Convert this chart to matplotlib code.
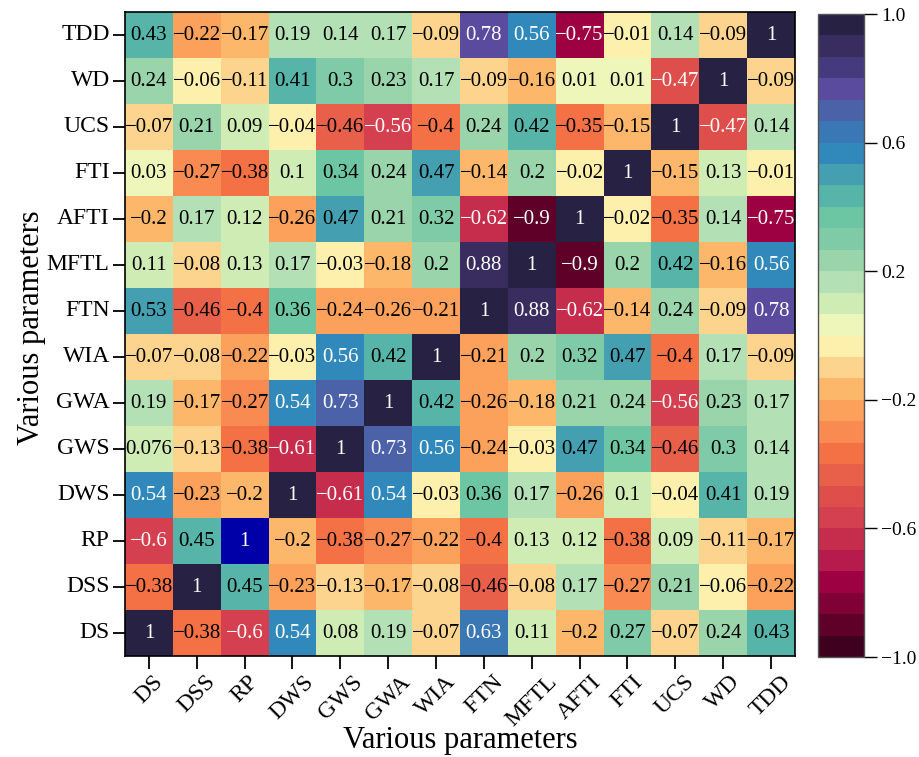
import numpy as np
import matplotlib
matplotlib.use('Agg')
import matplotlib.pyplot as plt
import seaborn as sns
from matplotlib.colors import ListedColormap, Normalize

plt.rcParams['font.family'] = ['Liberation Serif', 'DejaVu Serif']

## parameter names (columns left to right, rows bottom to top)
params = ['DS', 'DSS', 'RP', 'DWS', 'GWS', 'GWA', 'WIA',
          'FTN', 'MFTL', 'AFTI', 'FTI', 'UCS', 'WD', 'TDD']

## correlation values, one list per row as shown from top (TDD) to bottom (DS)
r_TDD  = [0.43, -0.22, -0.17, 0.19, 0.14, 0.17, -0.09, 0.78, 0.56, -0.75, -0.01, 0.14, -0.09, 1]
r_WD   = [0.24, -0.06, -0.11, 0.41, 0.3, 0.23, 0.17, -0.09, -0.16, 0.01, 0.01, -0.47, 1, -0.09]
r_UCS  = [-0.07, 0.21, 0.09, -0.04, -0.46, -0.56, -0.4, 0.24, 0.42, -0.35, -0.15, 1, -0.47, 0.14]
r_FTI  = [0.03, -0.27, -0.38, 0.1, 0.34, 0.24, 0.47, -0.14, 0.2, -0.02, 1, -0.15, 0.13, -0.01]
r_AFTI = [-0.2, 0.17, 0.12, -0.26, 0.47, 0.21, 0.32, -0.62, -0.9, 1, -0.02, -0.35, 0.14, -0.75]
r_MFTL = [0.11, -0.08, 0.13, 0.17, -0.03, -0.18, 0.2, 0.88, 1, -0.9, 0.2, 0.42, -0.16, 0.56]
r_FTN  = [0.53, -0.46, -0.4, 0.36, -0.24, -0.26, -0.21, 1, 0.88, -0.62, -0.14, 0.24, -0.09, 0.78]
r_WIA  = [-0.07, -0.08, -0.22, -0.03, 0.56, 0.42, 1, -0.21, 0.2, 0.32, 0.47, -0.4, 0.17, -0.09]
r_GWA  = [0.19, -0.17, -0.27, 0.54, 0.73, 1, 0.42, -0.26, -0.18, 0.21, 0.24, -0.56, 0.23, 0.17]
r_GWS  = [0.076, -0.13, -0.38, -0.61, 1, 0.73, 0.56, -0.24, -0.03, 0.47, 0.34, -0.46, 0.3, 0.14]
r_DWS  = [0.54, -0.23, -0.2, 1, -0.61, 0.54, -0.03, 0.36, 0.17, -0.26, 0.1, -0.04, 0.41, 0.19]
r_RP   = [-0.6, 0.45, 1, -0.2, -0.38, -0.27, -0.22, -0.4, 0.13, 0.12, -0.38, 0.09, -0.11, -0.17]
r_DSS  = [-0.38, 1, 0.45, -0.23, -0.13, -0.17, -0.08, -0.46, -0.08, 0.17, -0.27, 0.21, -0.06, -0.22]
r_DS   = [1, -0.38, -0.6, 0.54, 0.08, 0.19, -0.07, 0.63, 0.11, -0.2, 0.27, -0.07, 0.24, 0.43]

rows = ['TDD', 'WD', 'UCS', 'FTI', 'AFTI', 'MFTL', 'FTN', 'WIA', 'GWA', 'GWS', 'DWS', 'RP', 'DSS', 'DS']
corr = np.array([r_TDD, r_WD, r_UCS, r_FTI, r_AFTI, r_MFTL, r_FTN,
                 r_WIA, r_GWA, r_GWS, r_DWS, r_RP, r_DSS, r_DS])

## the one cell drawn in plain blue in the original (RP on RP)
special = np.zeros_like(corr, dtype=bool)
special[rows.index('RP'), params.index('RP')] = True

## 30 step colour scale, low to high
colors = ['#3e001e', '#5f0029', '#800136', '#9e0142', '#b71a4d', '#c62d4d',
          '#d4404f', '#de4f4c', '#e8604a', '#f47145', '#f98b52', '#fba15c',
          '#fdb76a', '#fcd48d', '#fdefac', '#eef7b9', '#d0ecb5', '#b4e0b6',
          '#99d4ab', '#7fcba7', '#6cc6a3', '#56b5a8', '#44a0b0', '#3189bb',
          '#3a77b5', '#4b62a9', '#5a4b9f', '#463a7e', '#382d5e', '#272243']
cmap = ListedColormap(colors)
special_cmap = ListedColormap(['#0000a8'])
norm = Normalize(vmin=-1, vmax=1)

fig = plt.figure(figsize=(9.2, 7.57), dpi=100)
ax = fig.add_axes([125 / 920, 1 - 656 / 757, 670 / 920, 644 / 757])
cax = fig.add_axes([818 / 920, 1 - 657 / 757, 46 / 920, 643 / 757])

sns.heatmap(corr, mask=special, cmap=cmap, vmin=-1, vmax=1, ax=ax, cbar_ax=cax,
            xticklabels=params, yticklabels=rows)
sns.heatmap(corr, mask=~special, cmap=special_cmap, vmin=-1, vmax=1, ax=ax, cbar=False,
            xticklabels=params, yticklabels=rows)

## annotations, white on dark cells
def lum(c):
    c = np.array(c[:3])
    c = np.where(c <= 0.03928, c / 12.92, ((c + 0.055) / 1.055) ** 2.4)
    return 0.2126 * c[0] + 0.7152 * c[1] + 0.0722 * c[2]

for i in range(corr.shape[0]):
    for j in range(corr.shape[1]):
        v = corr[i, j]
        fc = special_cmap(0) if special[i, j] else cmap(norm(v))
        tc = 'white' if lum(fc) < 0.24 else 'black'
        txt = format(v, 'g').replace('-', '\u2212')
        ax.text(j + 0.5, i + 0.5, txt, ha='center', va='center',
                fontsize=15, color=tc)

for s in ax.spines.values():
    s.set_visible(True)
    s.set_linewidth(1.2)
    s.set_color('black')

ax.tick_params(axis='both', length=9, width=1.3, labelsize=17, pad=2)
ax.set_yticklabels(rows, rotation=0)
ax.set_xticklabels(params, rotation=45, ha='center')
ax.set_xlabel('Various parameters', fontsize=22)
ax.set_ylabel('Various parameters', fontsize=22)
ax.xaxis.set_label_coords(0.5, -0.108)
ax.yaxis.set_label_coords(-0.118, 0.51)

cbar = ax.collections[0].colorbar
cbar.set_ticks([1.0, 0.6, 0.2, -0.2, -0.6, -1.0])
cbar.set_ticklabels(['1.0', '0.6', '0.2', '\u22120.2', '\u22120.6', '\u22121.0'])
cbar.ax.tick_params(length=9, width=1.0, labelsize=14)
cbar.outline.set_visible(True)
cbar.outline.set_linewidth(1.0)
cbar.outline.set_edgecolor('#555555')

fig.savefig('out.png', dpi=100)
